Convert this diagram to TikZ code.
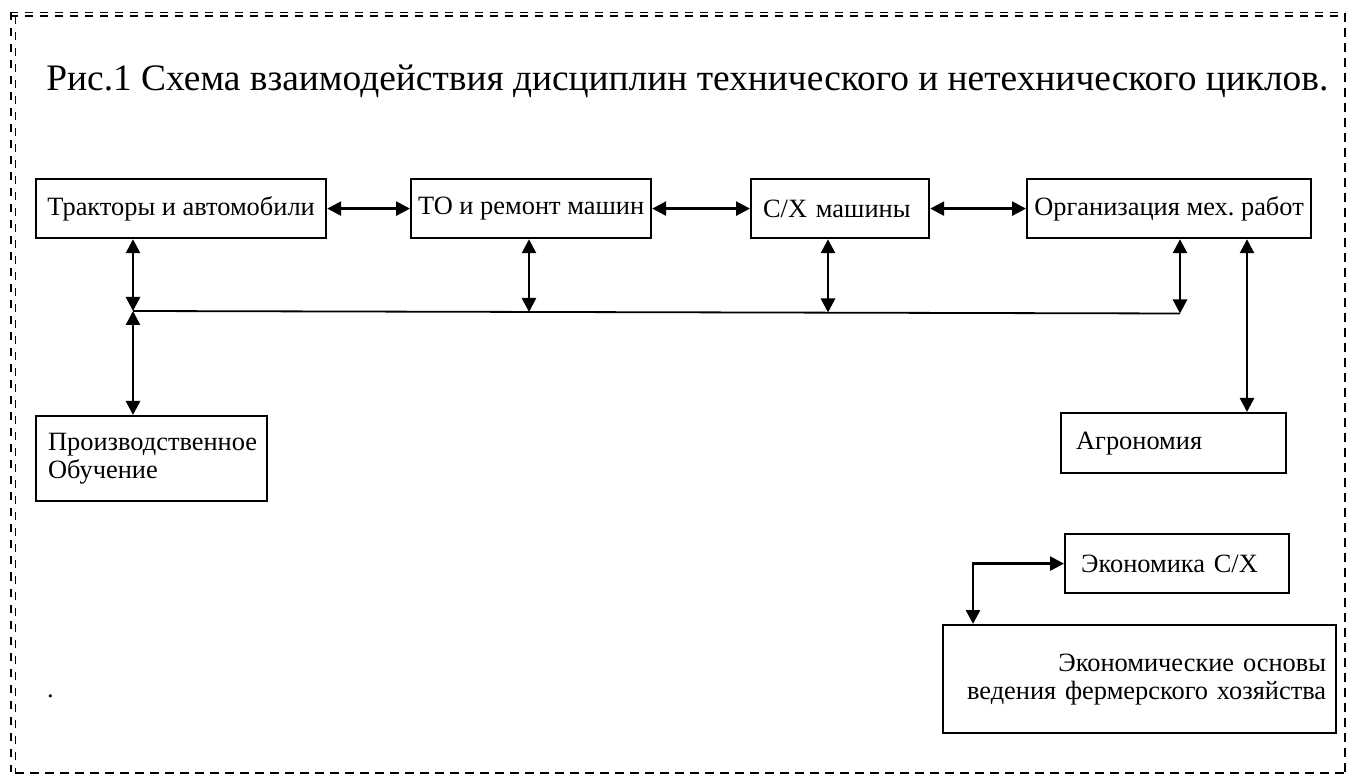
\documentclass[tikz,border=0pt]{standalone}
\usepackage{fontspec}
\setmainfont{Liberation Serif}
\usepackage{tikz}
\usetikzlibrary{positioning,arrows.meta}
\frenchspacing

\tikzset{
  blok/.style={draw, line width=1.1pt, anchor=north west, inner sep=0pt,
    font=\fontsize{13.2}{14}\selectfont},
  blokL/.style={blok, align=left},
  svyaz/.style={line width=1.3pt,
    {Triangle[length=7pt,width=7pt]}-{Triangle[length=7pt,width=7pt]}},
  shina/.style={line width=0.9pt},
  ramkaG/.style={line width=0.6pt, dash pattern=on 4pt off 3.5pt},
  ramkaV/.style={line width=0.6pt, dash pattern=on 4pt off 4pt},
  ramkaT/.style={line width=1.2pt, dash pattern=on 4.5pt off 3pt}
}

\begin{document}
\begin{tikzpicture}[x=0.5pt,y=-0.5pt]
\useasboundingbox (0,0) rectangle (1348,774);

% ramka
\draw[ramkaG] (10,12.5) -- (1345,12.5);
\draw[ramkaG] (10,16) -- (1345,16);
\draw[ramkaV] (11,12.5) -- (11,772);
\draw[ramkaV] (15.5,16) -- (15.5,772);
\draw[ramkaT] (1345,13) -- (1345,773);
\draw[ramkaT] (15,773) -- (1345,773);

\node[anchor=base west, inner sep=0pt, font=\fontsize{18.7}{22}\selectfont] (titul) at (46,91)
  {Рис.1 Схема взаимодействия дисциплин технического и нетехнического циклов.};

\node[blok, minimum width=145pt, minimum height=29.5pt] (trak) at (35,178) {Тракторы и автомобили};
\node[blok, minimum width=120pt, minimum height=29.5pt] (tor) at (410,178) {ТО и ремонт машин};
\node[blokL, inner xsep=6pt, text width=77pt, minimum height=29.5pt] (shm) at (750,178) {С/Х машины};
\node[blok, minimum width=142pt, minimum height=29.5pt] (org) at (1026,178) {Организация мех. работ};

\node[blokL, inner xsep=6pt, text width=103.5pt, minimum height=42.5pt] (proizv) at (35,415)
  {Производственное\\Обучение};
\node[blokL, inner xsep=7.5pt, text width=97.5pt, minimum height=30pt] (agro) at (1060,412) {Агрономия};
\node[blokL, inner xsep=8pt, text width=96pt, minimum height=29.5pt] (ekon) at (1064,533) {Экономика С/Х};
\node[blok, align=right, inner xsep=5pt, text width=186.5pt, minimum height=54pt] (osnov) at (942,624)
  {Экономические основы\\ведения фермерского хозяйства};

\node[blok, draw=none, anchor=base west] (tochka) at (46,697) {.};

\draw[svyaz] (trak) -- (tor);
\draw[svyaz] (tor) -- (shm);
\draw[svyaz] (shm) -- (org);

\coordinate (sh1) at (133,311);
\coordinate (sh2) at (529,312);
\coordinate (sh3) at (828,312.5);
\coordinate (sh4) at (1180,313.5);
\coordinate (ag) at (1247,0);
\coordinate (ugol) at (973,0);

\draw[shina] (sh1) -- (sh4);
\draw[svyaz] (sh1 |- trak.south) -- (sh1);
\draw[svyaz] (sh2 |- tor.south) -- (sh2);
\draw[svyaz] (sh3 |- shm.south) -- (sh3);
\draw[svyaz] (sh4 |- org.south) -- (sh4);
\draw[svyaz] (sh1) -- (sh1 |- proizv.north);
\draw[svyaz] (ag |- org.south) -- (ag |- agro.north);
\draw[svyaz] (ugol |- osnov.north) -- (ugol |- ekon.west) -- (ekon.west);

\end{tikzpicture}
\end{document}
